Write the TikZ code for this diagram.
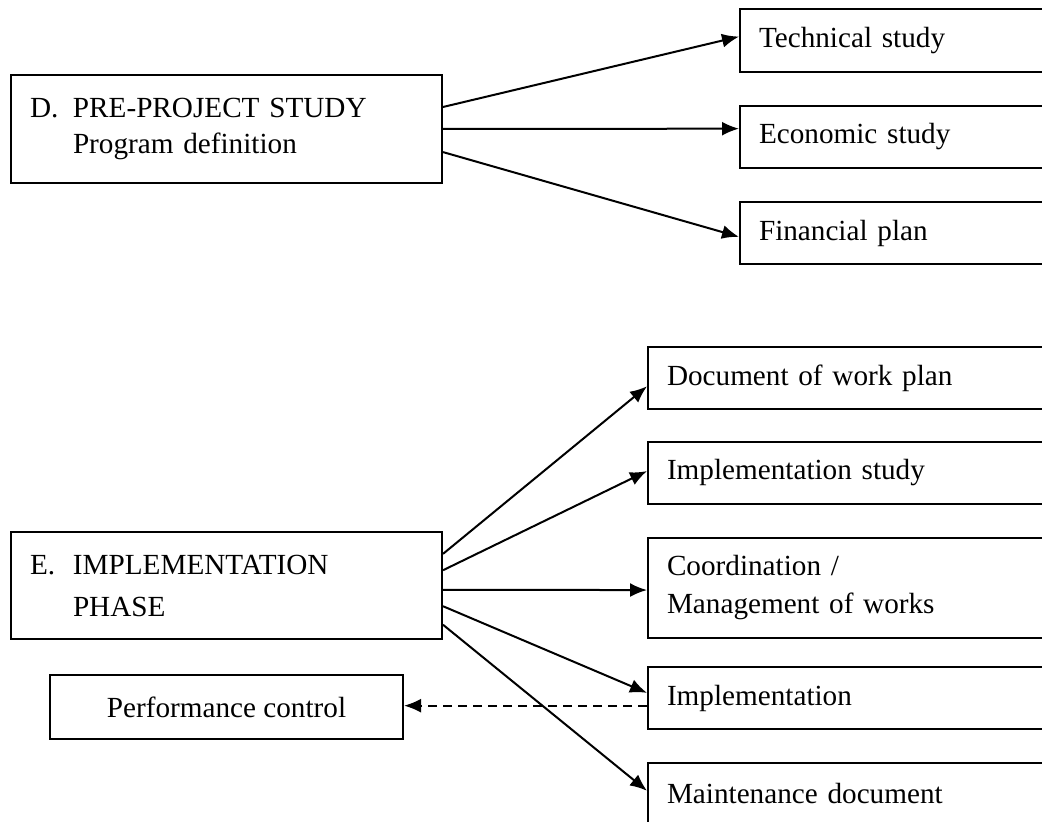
\documentclass[tikz,border=0pt]{standalone}
\usepackage{fontspec}
\setmainfont{Liberation Serif}
\usetikzlibrary{arrows.meta,calc}

\tikzset{
  box/.style={draw,anchor=north west,align=left,inner xsep=9.5pt,inner ysep=0pt,
    font=\fontsize{14.6}{18}\selectfont},
  side/.style={box,text width=136.5pt},
  sidelow/.style={box,text width=182.5pt},
  phase/.style={box,text width=196.5pt},
}

\begin{document}
\begin{tikzpicture}[x=0.5pt,y=-0.5pt,line width=1pt,>={Latex[length=8.5pt,width=7pt]}]
  \useasboundingbox (0,0) rectangle (1042,822);
  \clip (0,0) rectangle (1042,822);

  % pre-project study
  \node[phase,minimum height=54pt] (D) at (10,74)
    {\makebox[21.5pt][l]{D.}PRE-PROJECT STUDY\\\hspace*{21.5pt}Program definition};
  \node[side,minimum height=31.5pt] (tech) at (739,8) {Technical study};
  \node[side,minimum height=31pt] (eco) at (739,105) {Economic study};
  \node[side,minimum height=31pt] (fin) at (739,201) {Financial plan};

  \foreach \a/\t/\b in {.30/tech/.44, .50/eco/.37, .71/fin/.56}
    \draw[->] ($(D.north east)!\a!(D.south east)$) -- ($(\t.north west)!\b!(\t.south west)$);

  % implementation phase
  \node[phase,minimum height=53.5pt] (E) at (10,531)
    {\makebox[21.5pt][l]{E.}IMPLEMENTATION\\[3pt]\hspace*{21.5pt}PHASE};
  \node[sidelow,minimum height=31pt] (doc) at (647,346) {Document of work plan};
  \node[sidelow,minimum height=31pt] (stdy) at (647,441) {Implementation study};
  \node[sidelow,minimum height=50pt] (coord) at (647,537)
    {Coordination /\\[1pt]Management of works};
  \node[sidelow,minimum height=31pt] (impl) at (647,666) {Implementation};
  \node[sidelow,minimum height=31pt] (maint) at (647,762) {Maintenance document};
  \node[draw,anchor=north west,minimum width=176.5pt,minimum height=32pt,
    font=\fontsize{14.6}{18}\selectfont] (perf) at (49,674) {Performance control};

  \foreach \a/\t/\b in {.21/doc/.63, .36/stdy/.47, .54/coord/.52, .69/impl/.42, .86/maint/.45}
    \draw[->] ($(E.north east)!\a!(E.south east)$) -- ($(\t.north west)!\b!(\t.south west)$);

  \coordinate (ia) at ($(impl.north west)!.62!(impl.south west)$);
  \draw[->,dash pattern=on 4.5pt off 3pt] (ia) -- (perf.east |- ia);
\end{tikzpicture}
\end{document}
